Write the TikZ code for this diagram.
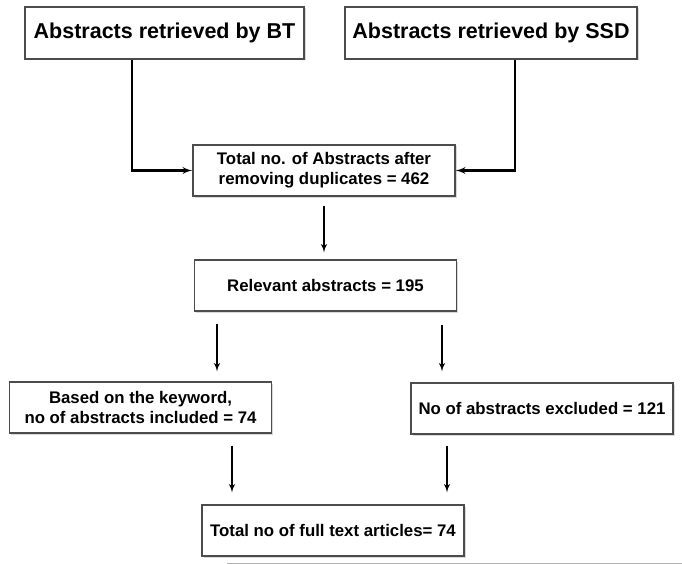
\documentclass[tikz,border=0pt]{standalone}
\usepackage{fontspec}
\setmainfont{Liberation Sans}
\usetikzlibrary{shapes,arrows,shadows}
\tikzstyle{block} = [rectangle, draw=black!70, line width=1.3pt, fill=white, 
align=center, minimum width=262pt, minimum height=51pt, inner sep=2pt, 
drop shadow={shadow xshift=1.5pt, shadow yshift=-1.5pt, fill=black!30}, font=\bfseries\fontsize{16.8}{20}\selectfont]
\tikzstyle{bigblock} = [block, minimum height=52pt, font=\bfseries\fontsize{21.5}{25}\selectfont]
\tikzstyle{line} = [draw, line width=1.8pt, -latex']
\tikzstyle{elbow} = [line, line width=2.4pt]

\begin{document}
\begin{tikzpicture}[x=1pt, y=-1pt]
	\useasboundingbox (0,0) rectangle (682,564);
	\node [bigblock, minimum width=279pt] (bt) at (164.5,33) {Abstracts retrieved by BT};
	\node [bigblock, minimum width=292pt] (ssd) at (491,33) {Abstracts retrieved by SSD};
	\node [block] (total) at (324,170.5) {Total no. of Abstracts after\\removing duplicates = 462};
	\node [block] (relevant) at (325.5,285.5) {Relevant abstracts = 195};
	\node [block] (keyword) at (140.5,407.5) {Based on the keyword,\\no of abstracts included = 74};
	\node [block] (excluded) at (542,408.5) {No of abstracts excluded = 121};
	\node [block] (fulltext) at (333,530.5) {Total no of full text articles= 74};
	\path [elbow] ([xshift=-32.5pt]bt.south) |- (total.west);
	\path [elbow] ([xshift=24pt]ssd.south) |- (total.east);
	
	\path [line, shorten <=9pt, shorten >=7pt] (total.south) -- (total.south |- relevant.north);
	\path [line, shorten <=12pt, shorten >=10pt] ([xshift=-108.5pt]relevant.south) -- ([xshift=-108.5pt]relevant.south |- keyword.north);
	\path [line, shorten <=13pt, shorten >=11pt] ([xshift=116.5pt]relevant.south) -- ([xshift=116.5pt]relevant.south |- excluded.north);
	\path [line, shorten <=12pt, shorten >=12pt] ([xshift=91.5pt]keyword.south) -- ([xshift=91.5pt]keyword.south |- fulltext.north);
	\path [line, shorten <=11pt, shorten >=12pt] ([xshift=-95pt]excluded.south) -- ([xshift=-95pt]excluded.south |- fulltext.north);
	
	\draw [black!30, line width=1pt] (227,563) -- (682,563);
	\end{tikzpicture}
\end{document}
